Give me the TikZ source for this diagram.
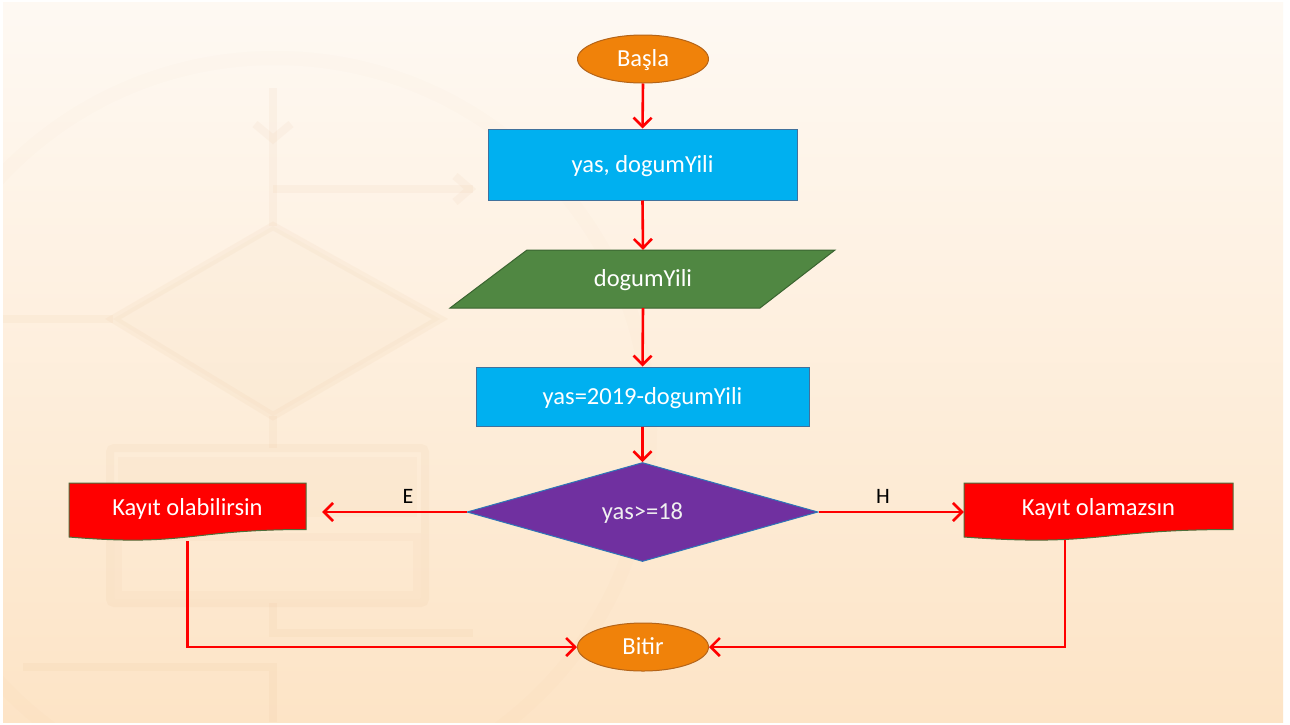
\documentclass[tikz,border=0pt]{standalone}
\usepackage{fontspec}
\setmainfont{Carlito}
\usetikzlibrary{arrows.meta,shapes.geometric,calc}
\definecolor{bgtop}{RGB}{254,249,243}
\definecolor{bgbot}{RGB}{253,228,198}
\definecolor{wm}{RGB}{215,150,90}
\definecolor{orangefill}{RGB}{240,130,10}
\definecolor{orangeline}{RGB}{180,100,25}
\definecolor{bluefill}{RGB}{0,176,240}
\definecolor{blueline}{RGB}{65,113,156}
\definecolor{greenfill}{RGB}{80,135,66}
\definecolor{greenline}{RGB}{58,100,48}
\definecolor{purplefill}{RGB}{112,48,160}
\definecolor{purpleline}{RGB}{46,117,182}
\definecolor{redfill}{RGB}{255,0,0}
\definecolor{redline}{RGB}{78,110,58}
\definecolor{arrowred}{RGB}{255,0,0}
\tikzset{
  txt/.style={text=white, font=\fontsize{24.5}{29}\selectfont, inner sep=0pt,
    text height=15.5pt, text depth=0pt},
  terminal/.style={ellipse, draw=orangeline, fill=orangefill, line width=1pt,
    minimum width=131pt, minimum height=48pt, txt},
  procbox/.style={rectangle, draw=blueline, fill=bluefill, line width=1pt, txt},
  decbox/.style={diamond, draw=purpleline, fill=purplefill, line width=1pt,
    minimum width=351pt, minimum height=99pt, aspect=3.5, txt, text=white!94!black},
  ghost/.style={rectangle, inner sep=0pt, draw=none},
  flow/.style={draw=arrowred, line width=2.6pt,
    -{Straight Barb[length=9pt,width=18pt,line width=2.6pt]}},
  lbl/.style={text=black, font=\fontsize{22}{26}\selectfont, inner sep=0pt},
  wmline/.style={draw=wm, draw opacity=0.055, line width=8pt},
}
\begin{document}
\begin{tikzpicture}[x=1pt,y=-1pt]
\useasboundingbox (0,0) rectangle (1290,724);
\fill[white] (0,0) rectangle (1290,724);
\shade[top color=bgtop, bottom color=bgbot] (3,2) rectangle (1283,722);
% faint watermark
\begin{scope}
\clip (3,2) rectangle (1283,722);
\draw[wmline, draw opacity=0.018, line width=14pt] (275,430) ellipse [x radius=375, y radius=372];
\draw[wmline] (273,88) -- (273,226);
\draw[wmline] (255,124) -- (273,139) -- (291,124);
\draw[wmline] (273,189) -- (473,189);
\draw[wmline] (455,176) -- (470,189) -- (455,202);
\draw[wmline, fill=wm, fill opacity=0.03] (273,226) -- (440,319) -- (273,416) -- (113,319) -- cycle;
\draw[wmline] (113,319) -- (3,319);
\draw[wmline] (273,416) -- (273,448);
\draw[wmline, rounded corners=4pt] (110,448) rectangle (425,603);
\fill[wm, fill opacity=0.035] (118,457) rectangle (417,517);
\draw[wmline, draw opacity=0.04] (118,537) rectangle (417,595);
\draw[wmline] (273,603) -- (273,633) -- (473,633);
\draw[wmline] (23,667) -- (273,667) -- (273,722);
\end{scope}
% nodes
\node[terminal] (basla) at (643,59) {Başla};
\node[procbox, minimum width=309pt, minimum height=71pt] (yas) at (642.5,164.5) {yas, dogumYili};
\fill[greenfill, draw=greenline, line width=1pt] (527,250) -- (835,250) -- (760,308) -- (450,308) -- cycle;
\node[ghost, txt, minimum width=300pt, minimum height=58pt] (dg) at (643,279) {dogumYili};
\node[procbox, minimum width=333pt, minimum height=59pt] (calc) at (642.5,396.5) {yas=2019-dogumYili};
\node[decbox] (dia) at (642.5,512) {yas>=18};
% document shapes
\fill[redfill, draw=redline, line width=1pt] (69,483) -- (306,483) -- (306,529.5)
  .. controls (187.5,529.5) and (187.5,547) .. (69,537) -- cycle;
\node[ghost, minimum width=237pt, minimum height=58pt] (kl) at (187.5,512) {};
\node[txt] (klt) at (187.5,508) {Kayıt olabilirsin};
\fill[redfill, draw=redline, line width=1pt] (964,483) -- (1233,483) -- (1233,529.5)
  .. controls (1098.5,529.5) and (1098.5,547) .. (964,537) -- cycle;
\node[ghost, minimum width=269pt, minimum height=58pt] (kr) at (1098.5,512) {};
\node[txt] (krt) at (1098.5,508) {Kayıt olamazsın};
\coordinate (krb) at (1065,540);
\node[terminal] (bitir) at (643,647) {Bitir};
% connectors
\draw[flow] (basla.south) -- (yas.north);
\draw[flow] (yas.south) -- (dg.north);
\draw[flow] (dg.south) -- (calc.north);
\draw[flow] (calc.south) -- (dia.north);
\draw[flow] (dia.west) -- ([xshift=16pt]kl.east);
\draw[flow] (dia.east) -- (kr.west);
\draw[flow] (kl.south) |- (bitir.west);
\draw[flow] (krb) |- (bitir.east);
\node[lbl] (e) at (408,496) {E};
\node[lbl] (h) at (883,496) {H};
\end{tikzpicture}
\end{document}
